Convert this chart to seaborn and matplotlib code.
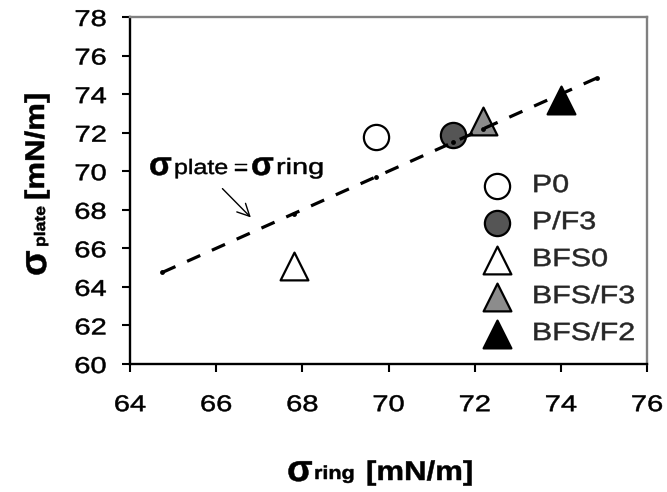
import matplotlib
matplotlib.use("Agg")
import matplotlib.pyplot as plt
import seaborn as sns
import pandas as pd
from matplotlib.patheffects import AbstractPathEffect
from matplotlib.transforms import Affine2D

sns.set_theme(style="white")
plt.rcParams['font.family'] = ['Liberation Sans', 'DejaVu Sans']

# ---- data ----
labels = ["P0", "P/F3", "BFS0", "BFS/F3", "BFS/F2"]
ring = [69.7, 71.5, 67.8, 72.2, 74.0]
plate = [71.8, 71.9, 65.1, 72.6, 73.7]
markers = ["o", "o", "^", "^", "^"]
fills = ["white", "#555555", "white", "#8c8c8c", "black"]
line_x = [64.75, 67.8, 69.7, 71.5, 72.2, 74.85]
line_y = [64.75, 67.8, 69.7, 71.5, 72.2, 74.85]
xticks = [64, 66, 68, 70, 72, 74, 76]
yticks = [60, 62, 64, 66, 68, 70, 72, 74, 76, 78]


class Stretch(AbstractPathEffect):
    """Widen text along its reading direction and thicken it slightly."""
    def __init__(self, sx=1.22, anchor="left", lw=0.35):
        super().__init__()
        self.sx = sx
        self.anchor = anchor
        self.lw = lw

    def draw_path(self, renderer, gc, tpath, affine, rgbFace=None):
        a = 0.0
        if len(tpath.vertices):
            ext = tpath.get_extents()
            if self.anchor == "right":
                a = ext.x1
            elif self.anchor == "center":
                a = (ext.x0 + ext.x1) / 2
        t = Affine2D().translate(-a, 0).scale(self.sx, 1).translate(a, 0)
        gc2 = renderer.new_gc()
        gc2.copy_properties(gc)
        if rgbFace is not None and self.lw > 0:
            gc2.set_linewidth(self.lw)
            gc2.set_foreground(rgbFace)
        renderer.draw_path(gc2, tpath, t + affine, rgbFace)
        gc2.restore()


W, H = 667, 492
fig = plt.figure(figsize=(W / 100, H / 100), dpi=100)
L, R, T, B = 130, 647, 17, 364
ax = fig.add_axes([L / W, 1 - B / H, (R - L) / W, (B - T) / H])

line_df = pd.DataFrame({"x": line_x, "y": line_y})
sns.lineplot(data=line_df, x="x", y="y", ax=ax, color="black", lw=2.3,
             linestyle=(0, (4.5, 4)), marker="o", markersize=3.5,
             markeredgewidth=0, zorder=3, legend=False)

for lab, xv, yv, m, fc in zip(labels, ring, plate, markers, fills):
    sns.scatterplot(x=[xv], y=[yv], ax=ax, marker=m, s=330 if m == "o" else 400,
                    color=fc, edgecolor="black", linewidth=1.6, label=lab,
                    zorder=2)

ax.set_xlim(64, 76)
ax.set_ylim(60, 78)
ax.set_xticks(xticks)
ax.set_yticks(yticks)
ax.tick_params(axis="both", direction="out", length=6, width=1.5,
               labelsize=16.5, color="black", labelcolor="black",
               bottom=True, left=True)
ax.tick_params(axis="x", pad=15)
ax.tick_params(axis="y", pad=11)
for side in ["left", "bottom"]:
    ax.spines[side].set_color("black")
    ax.spines[side].set_linewidth(1.7)
for side in ["top", "right"]:
    ax.spines[side].set_color("#808080")
    ax.spines[side].set_linewidth(1.7)
ax.set_xlabel("")
ax.set_ylabel("")
for t in ax.get_xticklabels():
    t.set_path_effects([Stretch(1.27, "center")])
for t in ax.get_yticklabels():
    t.set_path_effects([Stretch(1.27, "right")])

leg = ax.legend(loc="upper left", bbox_to_anchor=(0.666, 0.579), frameon=False,
                fontsize=18, handlelength=1.0, handletextpad=0.9,
                labelspacing=0.52, borderaxespad=0, markerscale=1.0)
for t in leg.get_texts():
    t.set_path_effects([Stretch(1.22, "left")])


def ft(px, py, s, sx=1.2, **kw):
    t = fig.text(px / W, 1 - py / H, s, color="black", **kw)
    t.set_path_effects([Stretch(sx, "left")])
    return t


base = dict(ha="left", va="baseline")
# annotation  sigma_plate = sigma_ring
ft(149, 175, "σ", sx=1.0, fontsize=24, fontweight="bold", **base)
ft(174, 174, "plate", fontsize=15, **base)
ft(234, 174, "=", fontsize=15, **base)
ft(251, 175, "σ", sx=1.0, fontsize=24, fontweight="bold", **base)
ft(276, 174, "ring", sx=1.3, fontsize=16, **base)
ax.annotate("", xy=(66.85, 67.5), xytext=(66.1, 69.2),
            arrowprops=dict(arrowstyle="->", color="black", lw=1.0,
                            mutation_scale=22))

# x label
ft(287, 481, "σ", sx=1.0, fontsize=27, fontweight="bold", **base)
ft(314, 479, "ring", sx=1.15, fontsize=13.5, fontweight="bold", **base)
ft(366, 480, "[mN/m]", sx=1.15, fontsize=19.5, fontweight="bold", **base)

# y label (rotated)
rk = dict(rotation=90, rotation_mode="anchor", ha="left", va="baseline")
ft(46, 276, "σ", sx=1.0, fontsize=27, fontweight="bold", **rk)
ft(45, 247, "plate", sx=1.15, fontsize=11, fontweight="bold", **rk)
ft(44, 200, "[mN/m]", sx=1.15, fontsize=19.5, fontweight="bold", **rk)

fig.savefig("out.png", dpi=100)
